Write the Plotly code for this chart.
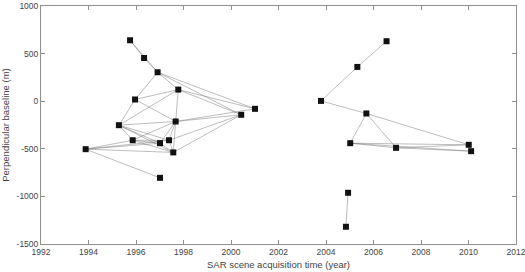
import plotly.graph_objects as go

# Acquisition dates (decimal year) and perpendicular baselines (m)
names = ["A","B","C","D","E","F","G","H","I","J","K","L","M","N","O",
         "P","Q","R","S","T","U","V","W","X","Y"]
years = [1995.75, 1996.34, 1996.91, 1997.78, 1995.96, 2001.01, 2000.43, 1997.67,
         1995.28, 1995.86, 1997.39, 1993.88, 1997.01, 1997.57, 1997.01,
         2006.55, 2005.32, 2003.79, 2005.70, 2005.02, 2006.95, 2010.01, 2010.11,
         2004.93, 2004.84]
baselines = [640, 454, 304, 122, 18, -80, -143, -213,
             -252, -410, -410, -504, -441, -538, -805,
             630, 360, 3, -129, -441, -490, -458, -525,
             -962, -1319]

# Interferometric pairs
pairs = [("A","B"),("B","C"),("A","C"),
         ("C","D"),("C","E"),("C","F"),("C","G"),
         ("D","E"),("D","F"),("D","G"),("D","H"),("D","I"),
         ("E","I"),("E","H"),
         ("I","H"),("I","J"),("I","M"),("I","K"),("I","N"),
         ("H","F"),("H","G"),("H","J"),("H","M"),("H","K"),("H","N"),
         ("K","G"),("N","G"),("K","N"),("M","N"),("J","M"),("J","N"),("J","K"),
         ("L","J"),("L","M"),("L","K"),("L","N"),("L","O"),
         ("P","Q"),("Q","R"),("R","S"),("S","V"),("S","T"),("S","U"),
         ("T","U"),("T","V"),("T","W"),("U","V"),("U","W"),("X","Y")]

x_ticks = [1992, 1994, 1996, 1998, 2000, 2002, 2004, 2006, 2008, 2010, 2012]
y_ticks = [-1500, -1000, -500, 0, 500, 1000]

idx = {n: i for i, n in enumerate(names)}
lx, ly = [], []
for a, b in pairs:
    lx += [years[idx[a]], years[idx[b]], None]
    ly += [baselines[idx[a]], baselines[idx[b]], None]

fig = go.Figure()
fig.add_trace(go.Scatter(x=lx, y=ly, mode="lines",
                         line=dict(color="rgba(120,120,120,0.7)", width=0.7),
                         hoverinfo="skip", showlegend=False))
fig.add_trace(go.Scatter(x=years, y=baselines, mode="markers",
                         marker=dict(symbol="square", size=6, color="#111111",
                                     line=dict(width=0)),
                         showlegend=False))

font_f = "Liberation Sans, Arial"
axis_common = dict(showgrid=False, zeroline=False, showline=True, linecolor="#909090",
                   linewidth=1, mirror="ticks", ticks="inside", ticklen=4,
                   tickcolor="#909090", ticklabeloverflow="allow",
                   tickfont=dict(family=font_f, size=8.5, color="#444444"))
fig.update_xaxes(range=[1992, 2012], tickvals=x_ticks, ticktext=[str(t) for t in x_ticks],
                 title=dict(text="SAR scene acquisition time (year)",
                            font=dict(family=font_f, size=9.5, color="#444444"),
                            standoff=5),
                 **axis_common)
fig.update_yaxes(range=[-1500, 1000], tickvals=y_ticks,
                 ticktext=[str(t) for t in y_ticks],
                 title=dict(text="Perpendicular baseline (m)",
                            font=dict(family=font_f, size=9.5, color="#444444"),
                            standoff=9),
                 **axis_common)
fig.update_layout(width=525, height=272, margin=dict(l=41, r=9, t=6, b=28, autoexpand=False),
                  plot_bgcolor="white", paper_bgcolor="white")
fig.write_html("out.html", config={"displayModeBar": False},
               post_script="document.body.style.margin='0';")
